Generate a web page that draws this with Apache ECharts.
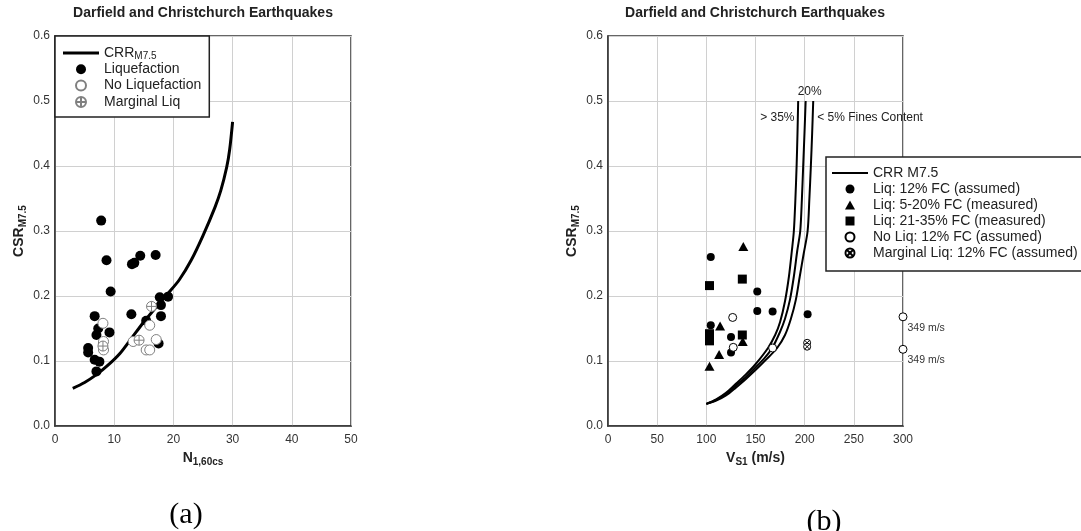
<!DOCTYPE html>
<html>
<head>
<meta charset="utf-8">
<script src="https://cdn.jsdelivr.net/npm/echarts@6/dist/echarts.min.js"></script>
<style>
  html, body { margin: 0; padding: 0; background: #fff; }
  #chart { width: 1081px; height: 531px; }
</style>
</head>
<body>
<div id="chart"></div>
<script>
// ---------- (a) CSR vs N1,60cs ----------
const crrN   = [3, 5, 7, 9, 11, 13, 15, 17, 19, 21, 23, 25, 27, 28, 29, 29.5, 30];
const crrCsr = [0.058, 0.067, 0.079, 0.094, 0.112, 0.136, 0.160, 0.182, 0.203, 0.225, 0.255, 0.293, 0.336, 0.362, 0.398, 0.425, 0.468];

const liqN   = [7.8, 8.7, 13.0, 13.4, 14.4, 17.0, 9.4, 17.7, 19.1, 17.9, 12.9, 15.4, 17.9, 6.7, 7.3, 9.2, 7.0, 8.1, 17.5, 5.6, 5.6, 6.7, 7.5, 7.0];
const liqCsr = [0.316, 0.255, 0.249, 0.251, 0.262, 0.263, 0.207, 0.198, 0.199, 0.186, 0.172, 0.162, 0.169, 0.169, 0.150, 0.144, 0.140, 0.127, 0.127, 0.120, 0.113, 0.102, 0.099, 0.084];

const noLiqN   = [8.1, 16.0, 8.2, 8.2, 13.2, 15.4, 16.0, 17.1];
const noLiqCsr = [0.158, 0.155, 0.130, 0.117, 0.130, 0.117, 0.117, 0.133];

const margN   = [16.3, 14.2, 8.1];
const margCsr = [0.184, 0.132, 0.123];

// ---------- (b) CSR vs Vs1 ----------
const vsFc35   = [100, 110, 120, 130, 140, 150, 162.7, 170, 175, 180, 184, 187, 189, 190.6, 191.8, 192.7, 193.4];
const csrFc35  = [0.034, 0.041, 0.051, 0.065, 0.079, 0.095, 0.120, 0.140, 0.160, 0.192, 0.230, 0.270, 0.300, 0.350, 0.400, 0.450, 0.500];
const vsFc20   = [100, 110, 120, 130, 140, 150, 160, 167, 175, 180, 185, 189, 192.5, 195.5, 197.2, 198.5, 199.8, 201];
const csrFc20  = [0.034, 0.040, 0.049, 0.062, 0.075, 0.090, 0.106, 0.120, 0.145, 0.165, 0.194, 0.230, 0.270, 0.300, 0.350, 0.400, 0.450, 0.500];
const vsFc5    = [100, 110, 120, 130, 140, 150, 160, 172, 180, 186, 191, 195, 199, 203, 204.8, 206.3, 207.6, 208.7];
const csrFc5   = [0.034, 0.039, 0.047, 0.059, 0.072, 0.086, 0.101, 0.120, 0.140, 0.165, 0.194, 0.230, 0.265, 0.300, 0.350, 0.400, 0.450, 0.500];

const liq12Vs   = [104.5, 151.8, 151.8, 167.4, 203.0, 104.5, 125.1, 125.1];
const liq12Csr  = [0.260, 0.207, 0.177, 0.176, 0.172, 0.155, 0.137, 0.113];
const liq5Vs    = [137.6, 114.0, 113.0, 103.2, 137.0];
const liq5Csr   = [0.276, 0.154, 0.110, 0.092, 0.130];
const liq21Vs   = [103.2, 136.6, 136.6, 103.2, 103.2];
const liq21Csr  = [0.216, 0.226, 0.140, 0.142, 0.131];
const noLiq12Vs  = [126.8, 127.4, 167.4, 349, 349];
const noLiq12Csr = [0.167, 0.121, 0.120, 0.168, 0.118];
const marg12Vs   = [202.5, 202.5];
const marg12Csr  = [0.128, 0.122];

const csrTicks = [0, 0.1, 0.2, 0.3, 0.4, 0.5, 0.6];
const nTicks   = [0, 10, 20, 30, 40, 50];
const vsTicks  = [0, 50, 100, 150, 200, 250, 300];

const FONT = '"Liberation Sans", Arial, sans-serif';
const SERIF = '"Liberation Serif", "Times New Roman", serif';
const pairs = (xs, ys) => xs.map((x, i) => [x, ys[i]]);

// marker shapes
const circlePlus  = 'path://M0,10 A10,10 0 1,0 20,10 A10,10 0 1,0 0,10 Z M0,10 L20,10 M10,0 L10,20';
const circleCross = 'path://M0,10 A10,10 0 1,0 20,10 A10,10 0 1,0 0,10 Z M2.93,2.93 L17.07,17.07 M17.07,2.93 L2.93,17.07';
const triangle    = 'path://M5,0 L10,9 L0,9 Z';
const square      = 'path://M0,0 L10,0 L10,10 L0,10 Z';
const thickBar    = 'path://M0,0 L36,0 L36,3 L0,3 Z';
const thinBar     = 'path://M0,0 L36,0 L36,2 L0,2 Z';

function valueAxis(ticks, gridIndex, extra) {
  return Object.assign({
    type: 'value',
    gridIndex: gridIndex,
    min: ticks[0],
    max: ticks[ticks.length - 1],
    interval: ticks[1] - ticks[0],
    axisLine: { show: true, onZero: false, lineStyle: { color: '#333', width: 1.5 } },
    axisTick: { show: false },
    splitLine: { show: true, lineStyle: { color: '#d0d0d0', width: 1 } },
    axisLabel: { color: '#333', fontSize: 12, fontFamily: FONT }
  }, extra);
}

const subRich = {
  b: { fontSize: 14, fontWeight: 'bold', fontFamily: FONT, color: '#222', lineHeight: 18 },
  s: { fontSize: 10, fontWeight: 'bold', fontFamily: FONT, color: '#222', lineHeight: 10, verticalAlign: 'bottom' }
};
const legRich = {
  t: { fontSize: 14, fontFamily: FONT, color: '#222', lineHeight: 16 },
  s: { fontSize: 10, fontFamily: FONT, color: '#222', lineHeight: 10, verticalAlign: 'bottom' }
};

const csrYAxis = (gi) => valueAxis(csrTicks, gi, {
  name: '{b|CSR}{s|M7.5}',
  nameLocation: 'middle',
  nameGap: 27,
  nameTextStyle: { rich: subRich },
  axisLabel: { color: '#333', fontSize: 12, fontFamily: FONT, margin: 5, formatter: v => v.toFixed(1) }
});

const noteStyle = { color: '#222', fontSize: 12, fontFamily: FONT, distance: 0 };
const titleStyle = { fontSize: 14, fontWeight: 'bold', fontFamily: FONT, color: '#222' };
const captionStyle = { fontSize: 30, fontWeight: 'normal', fontFamily: SERIF, color: '#000' };

const option = {
  animation: false,
  backgroundColor: '#fff',
  title: [
    { text: 'Darfield and Christchurch Earthquakes', left: 203, top: 6, textAlign: 'center', padding: 0, textStyle: titleStyle },
    { text: 'Darfield and Christchurch Earthquakes', left: 755, top: 6, textAlign: 'center', padding: 0, textStyle: titleStyle },
    { text: '(a)', left: 186, top: 500, textAlign: 'center', padding: 0, textStyle: captionStyle },
    { text: '(b)', left: 824, top: 507, textAlign: 'center', padding: 0, textStyle: captionStyle }
  ],
  grid: [
    { left: 55, top: 36, width: 296, height: 390, show: true, borderColor: '#333', borderWidth: 1.5, backgroundColor: 'transparent' },
    { left: 608, top: 36, width: 295, height: 390, show: true, borderColor: '#333', borderWidth: 1.5, backgroundColor: 'transparent' }
  ],
  xAxis: [
    valueAxis(nTicks, 0, {
      name: '{b|N}{s|1,60cs}', nameLocation: 'middle', nameGap: 22,
      nameTextStyle: { rich: subRich },
      axisLabel: { color: '#333', fontSize: 12, fontFamily: FONT, margin: 8 }
    }),
    valueAxis(vsTicks, 1, {
      name: '{b|V}{s|S1}{b| (m/s)}', nameLocation: 'middle', nameGap: 22,
      nameTextStyle: { rich: subRich },
      axisLabel: { color: '#333', fontSize: 12, fontFamily: FONT, margin: 8 }
    })
  ],
  yAxis: [csrYAxis(0), csrYAxis(1)],
  legend: [
    {
      orient: 'vertical', left: 55, top: 36,
      padding: [9, 8, 7, 8], itemGap: 0.3, itemWidth: 36, itemHeight: 10,
      backgroundColor: '#fff', borderColor: '#222', borderWidth: 1.5, borderRadius: 0,
      data: [{ name: 'CRR', icon: thickBar }, 'Liquefaction', 'No Liquefaction', 'Marginal Liq'],
      formatter: name => name === 'CRR' ? '{t|CRR}{s|M7.5}' : '{t|' + name + '}',
      textStyle: { rich: legRich, fontSize: 14, lineHeight: 16, fontFamily: FONT, color: '#222' }
    },
    {
      orient: 'vertical', left: 826, top: 157,
      padding: [8, 8, 10, 6], itemGap: 0, itemWidth: 36, itemHeight: 9,
      backgroundColor: '#fff', borderColor: '#222', borderWidth: 1.5, borderRadius: 0,
      data: [{ name: 'CRR M7.5', icon: thinBar }, 'Liq: 12% FC (assumed)', 'Liq: 5-20% FC (measured)', 'Liq: 21-35% FC (measured)',
             'No Liq: 12% FC (assumed)', 'Marginal Liq: 12% FC (assumed)'],
      textStyle: { fontSize: 14, fontFamily: FONT, color: '#222', lineHeight: 16 }
    }
  ],
  series: [
    // (a)
    { name: 'CRR', type: 'line', xAxisIndex: 0, yAxisIndex: 0, data: pairs(crrN, crrCsr),
      symbol: 'none', smooth: 0.3, lineStyle: { color: '#000', width: 3 }, itemStyle: { color: '#000' }, z: 2 },
    { name: 'Liquefaction', type: 'scatter', xAxisIndex: 0, yAxisIndex: 0, data: pairs(liqN, liqCsr),
      symbol: 'circle', symbolSize: 10, itemStyle: { color: '#000', opacity: 1 }, z: 3 },
    { name: 'No Liquefaction', type: 'scatter', xAxisIndex: 0, yAxisIndex: 0, data: pairs(noLiqN, noLiqCsr),
      symbol: 'circle', symbolSize: 10, itemStyle: { color: '#fff', borderColor: '#808080', borderWidth: 1, opacity: 1 }, z: 4 },
    { name: 'Marginal Liq', type: 'scatter', xAxisIndex: 0, yAxisIndex: 0, data: pairs(margN, margCsr),
      symbol: circlePlus, symbolSize: 10, itemStyle: { color: '#fff', borderColor: '#808080', borderWidth: 1, opacity: 1 }, z: 5 },

    // (b) three CRR curves, labelled by fines content at their upper ends
    { name: 'CRR M7.5', type: 'line', xAxisIndex: 1, yAxisIndex: 1, data: pairs(vsFc35, csrFc35),
      symbol: 'none', smooth: 0.3, lineStyle: { color: '#000', width: 2 }, itemStyle: { color: '#000' }, z: 2,
      endLabel: Object.assign({ show: true, formatter: '> 35%', offset: [-38, 17] }, noteStyle) },
    { name: 'CRR M7.5', type: 'line', xAxisIndex: 1, yAxisIndex: 1, data: pairs(vsFc20, csrFc20),
      symbol: 'none', smooth: 0.3, lineStyle: { color: '#000', width: 2 }, itemStyle: { color: '#000' }, z: 2,
      endLabel: Object.assign({ show: true, formatter: '20%', offset: [-8, -9] }, noteStyle) },
    { name: 'CRR M7.5', type: 'line', xAxisIndex: 1, yAxisIndex: 1, data: pairs(vsFc5, csrFc5),
      symbol: 'none', smooth: 0.3, lineStyle: { color: '#000', width: 2 }, itemStyle: { color: '#000' }, z: 2,
      endLabel: Object.assign({ show: true, formatter: '< 5% Fines Content', offset: [4, 17] }, noteStyle) },
    { name: 'Liq: 12% FC (assumed)', type: 'scatter', xAxisIndex: 1, yAxisIndex: 1, data: pairs(liq12Vs, liq12Csr),
      symbol: 'circle', symbolSize: 8, itemStyle: { color: '#000', opacity: 1 }, z: 3 },
    { name: 'Liq: 5-20% FC (measured)', type: 'scatter', xAxisIndex: 1, yAxisIndex: 1, data: pairs(liq5Vs, liq5Csr),
      symbol: triangle, symbolSize: [10, 9], itemStyle: { color: '#000', opacity: 1 }, z: 3 },
    { name: 'Liq: 21-35% FC (measured)', type: 'scatter', xAxisIndex: 1, yAxisIndex: 1, data: pairs(liq21Vs, liq21Csr),
      symbol: square, symbolSize: 9, itemStyle: { color: '#000', opacity: 1 }, z: 3 },
    { name: 'No Liq: 12% FC (assumed)', type: 'scatter', xAxisIndex: 1, yAxisIndex: 1,
      // values beyond the axis range sit on the right edge and carry their measured velocity as a label
      data: noLiq12Vs.map((v, i) => {
        const xMax = vsTicks[vsTicks.length - 1];
        const item = { value: [Math.min(v, xMax), noLiq12Csr[i]] };
        if (v > xMax) {
          item.label = { show: true, formatter: v + ' m/s', position: 'right', distance: 5, offset: [-5, 11],
                         color: '#333', fontSize: 10.5, fontFamily: FONT };
        }
        return item;
      }),
      clip: false,
      symbol: 'circle', symbolSize: 8, itemStyle: { color: '#fff', borderColor: '#000', borderWidth: 1, opacity: 1 }, z: 4 },
    { name: 'Marginal Liq: 12% FC (assumed)', type: 'scatter', xAxisIndex: 1, yAxisIndex: 1, data: pairs(marg12Vs, marg12Csr),
      symbol: circleCross, symbolSize: 7, itemStyle: { color: '#fff', borderColor: '#000', borderWidth: 1, opacity: 1 }, z: 5 }
  ]
};

const chart = echarts.init(document.getElementById('chart'), null, { renderer: 'canvas' });
chart.setOption(option);
</script>
</body>
</html>
